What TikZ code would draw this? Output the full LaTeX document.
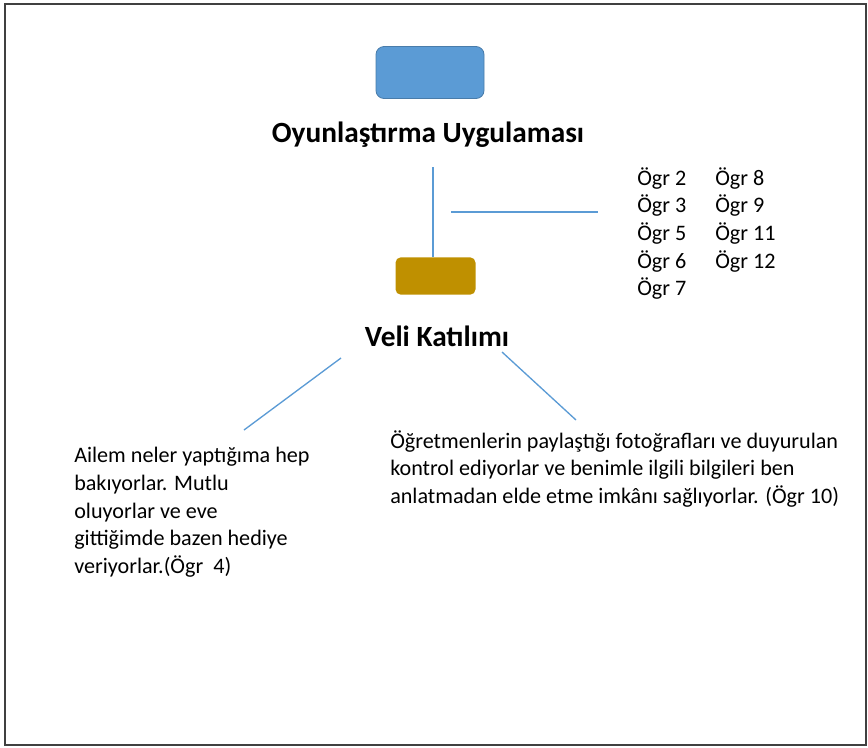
\documentclass[tikz,border=0pt]{standalone}
\usepackage{fontspec}
\setmainfont{Carlito}
\definecolor{kutumavi}{RGB}{91,155,213}
\definecolor{kutusari}{RGB}{191,144,0}
\definecolor{cizgimavi}{RGB}{91,155,213}
\tikzset{
  kutu/.style={rounded corners=6pt,minimum width=#1},
  baslik/.style={font=\fontsize{22}{26}\selectfont\bfseries,inner sep=0pt},
  metin/.style={font=\fontsize{16.6}{20.8}\selectfont,align=left,inner sep=0pt},
  baglanti/.style={cizgimavi,line width=1pt}
}
\begin{document}
\begin{tikzpicture}[x=0.75pt,y=-0.75pt]
  \useasboundingbox (0,0) rectangle (868,747);

  % Marco
  \draw [line width=1.6pt,black!75] (5,4) rectangle (866,745);

  % Oyunlastirma
  \node [kutu=81pt,minimum height=39pt,fill=kutumavi,draw=kutumavi!80!black,line width=0.6pt] (oyun) at (430,72.5) {};
  \node [baslik] (oyunbaslik) at (428,135) {Oyunlaştırma Uygulaması};

  % Veli katilimi
  \node [kutu=60pt,minimum height=28pt,fill=kutusari,rounded corners=4pt] (veli) at (435.5,276) {};
  \node [baslik] (velibaslik) at (437,336) {Veli Katılımı};

  % Ogrenciler
  \node [metin,anchor=north west] (ogrbir) at (637,167) {Ögr 2\\Ögr 3\\Ögr 5\\Ögr 6\\Ögr 7};
  \node [metin,anchor=north west] (ogriki) at (715,167) {Ögr 8\\Ögr 9\\Ögr 11\\Ögr 12};

  % Gorusler
  \node [metin,anchor=north west] (ogrdort) at (74,447) {Ailem neler yaptığıma hep\\bakıyorlar. Mutlu\\oluyorlar ve eve\\gittiğimde bazen hediye\\veriyorlar.(Ögr~~4)};
  \node [metin,anchor=north west] (ogron) at (390,430) {Öğretmenlerin paylaştığı fotoğrafları ve duyurulan\\kontrol ediyorlar ve benimle ilgili bilgileri ben\\anlatmadan elde etme imkânı sağlıyorlar. (Ögr 10)};

  % Baglantilar
  \coordinate (dikust) at (433,167);
  \coordinate (yataybas) at (451,212);
  \coordinate (yataybit) at (598,212);
  \coordinate (solust) at (341,358);
  \coordinate (solalt) at (244,430);
  \coordinate (sagust) at (502,352);
  \coordinate (sagalt) at (576,420);
  \draw [baglanti] (dikust) -- (dikust |- veli.north);
  \draw [baglanti] (yataybas) -- (yataybit);
  \draw [baglanti] (solust) -- (solalt);
  \draw [baglanti] (sagust) -- (sagalt);
\end{tikzpicture}
\end{document}
